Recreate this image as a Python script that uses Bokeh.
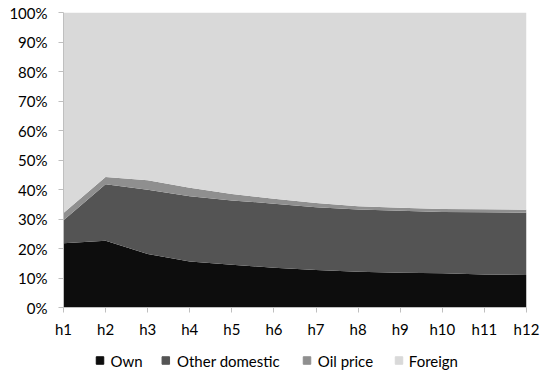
from bokeh.plotting import figure
from bokeh.layouts import column
from bokeh.models import ColumnDataSource, FixedTicker, NumeralTickFormatter, Range1d
from bokeh.core.properties import value
from bokeh.embed import file_html
from bokeh.resources import INLINE

horizons = ["h1", "h2", "h3", "h4", "h5", "h6", "h7", "h8", "h9", "h10", "h11", "h12"]
own = [21.8, 22.6, 18.1, 15.6, 14.5, 13.5, 12.7, 12.1, 11.8, 11.6, 11.2, 11.0]
other_domestic = [7.8, 19.2, 21.8, 22.1, 21.8, 21.7, 21.3, 21.1, 21.0, 20.8, 21.1, 21.1]
oil_price = [2.4, 2.4, 3.2, 2.9, 2.2, 1.7, 1.4, 1.1, 1.0, 1.0, 1.0, 1.0]
foreign = [round(100 - a - b - c, 2) for a, b, c in zip(own, other_domestic, oil_price)]

series = ["own", "other", "oil", "foreign"]
labels = ["Own", "Other domestic", "Oil price", "Foreign"]
colors = ["#0d0d0d", "#545454", "#8f8f8f", "#d9d9d9"]

x = list(range(1, len(horizons) + 1))
src = ColumnDataSource(dict(
    x=x,
    own=[v / 100 for v in own],
    other=[v / 100 for v in other_domestic],
    oil=[v / 100 for v in oil_price],
    foreign=[v / 100 for v in foreign],
))

FONT = "Lato"
FS = "15px"
LEFT, RIGHT = 63, 526
p = figure(width=541, height=340, output_backend="svg", toolbar_location=None,
           x_range=(1, 12), y_range=(0, 1),
           min_border_left=LEFT, min_border_right=541 - RIGHT, min_border_top=12, min_border_bottom=28)
p.outline_line_color = None
p.xgrid.visible = False
p.ygrid.visible = False

p.varea_stack(stackers=series, x="x", source=src, color=colors)

p.xaxis.ticker = FixedTicker(ticks=x)
p.xaxis.major_label_overrides = {i: h for i, h in zip(x, horizons)}
p.yaxis.ticker = FixedTicker(ticks=[i / 10 for i in range(11)])
p.yaxis.formatter = NumeralTickFormatter(format="0%")
for ax in (p.xaxis[0], p.yaxis[0]):
    ax.axis_line_color = "#bfbfbf"
    ax.major_tick_line_color = "#bfbfbf"
    ax.major_tick_in = 0
    ax.major_tick_out = 5
    ax.minor_tick_line_color = None
    ax.major_label_text_font = FONT
    ax.major_label_text_font_size = FS
    ax.major_label_text_color = "#000000"
p.yaxis.major_label_standoff = 11
p.xaxis.major_label_standoff = 7

# legend strip below the chart; its frame is aligned with the chart frame,
# so the x range is expressed in page pixels of that frame
lg = figure(width=541, height=38, output_backend="svg", toolbar_location=None,
            x_range=Range1d(LEFT, RIGHT), y_range=Range1d(0, 38),
            min_border_left=LEFT, min_border_right=541 - RIGHT, min_border_top=0, min_border_bottom=0)
lg.axis.visible = False
lg.grid.visible = False
lg.outline_line_color = None
swatch_x = [99.5, 165.3, 306.5, 398.5]
label_x = [110, 176.5, 317.3, 408.3]
leg = ColumnDataSource(dict(sx=swatch_x, tx=label_x, y=[18] * 4, label=labels, color=colors))
lg.scatter(x="sx", y="y", source=leg, marker="square", size=7.5, color="color")
lg.text(x="tx", y="y", text="label", source=leg, text_font=value(FONT), text_font_size=FS,
        text_baseline="middle", text_align="left", text_color="#000000")

layout = column(p, lg, spacing=0)
open("out.html", "w").write(file_html(layout, INLINE))
